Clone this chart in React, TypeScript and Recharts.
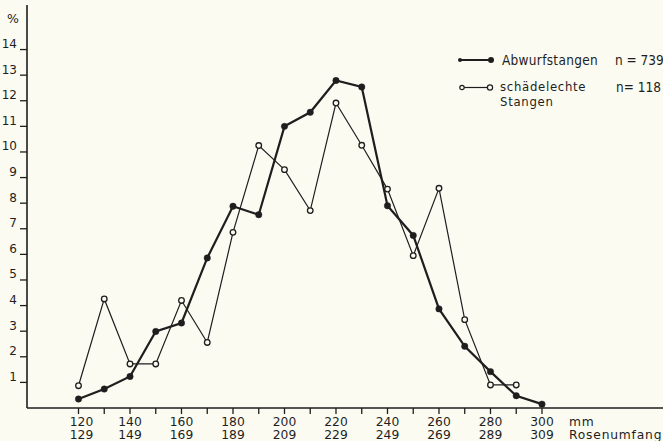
import React from "react";
import { LineChart, Line, XAxis, YAxis } from "recharts";

// Rosenumfang classes (mm), lower and upper bound
const classStarts = [120, 130, 140, 150, 160, 170, 180, 190, 200, 210, 220, 230, 240, 250, 260, 270, 280, 290, 300];
const classEnds = [129, 139, 149, 159, 169, 179, 189, 199, 209, 219, 229, 239, 249, 259, 269, 279, 289, 299, 309];

// percent per class
const abwurfstangen = [0.35, 0.74, 1.23, 2.99, 3.32, 5.86, 7.88, 7.55, 11.0, 11.55, 12.79, 12.54, 7.9, 6.74, 3.87, 2.41, 1.42, 0.48, 0.15];
const schaedelechte = [0.87, 4.26, 1.72, 1.72, 4.2, 2.56, 6.86, 10.25, 9.31, 7.71, 11.91, 10.26, 8.55, 5.95, 8.58, 3.45, 0.9, 0.9, null];

const yTicks = [1, 2, 3, 4, 5, 6, 7, 8, 9, 10, 11, 12, 13, 14];
const labelledClasses = [120, 140, 160, 180, 200, 220, 240, 260, 280, 300];

const data = classStarts.map((c, i) => ({
  klasse: c,
  abwurf: abwurfstangen[i],
  schaedel: schaedelechte[i],
}));

const INK = "#1e1e1e";
const PAPER = "#fbfbf2";
const TICK_FONT = '"DejaVu Sans", sans-serif';
const LEGEND_FONT = '"DejaVu Sans Condensed", "DejaVu Sans", sans-serif';

function XTick(props: any) {
  const { x, y, payload } = props;
  const v = payload.value as number;
  const tick = <line x1={x} x2={x} y1={y} y2={y + 6} stroke={INK} strokeWidth={1.3} />;
  if (!labelledClasses.includes(v)) return tick;
  const i = classStarts.indexOf(v);
  const lx = v === 120 ? x + 3 : x;
  return (
    <g fontFamily={TICK_FONT} fontSize={12.3} fill={INK}>
      {tick}
      <text x={lx} y={y + 18} textAnchor="middle">
        <tspan x={lx}>{v}</tspan>
        <tspan x={lx} dy={12.6}>{classEnds[i]}</tspan>
      </text>
      {v === 300 && (
        <text x={x + 27} y={y + 18} letterSpacing={0.8}>
          <tspan x={x + 27}>mm</tspan>
          <tspan x={x + 27} dy={12.6}>Rosenumfang</tspan>
        </text>
      )}
    </g>
  );
}

function YTick(props: any) {
  const { x, y, payload } = props;
  return (
    <g>
      <line x1={x - 7} x2={x} y1={y} y2={y} stroke={INK} strokeWidth={1.3} />
      <text x={x - 10} y={y - 1.5} textAnchor="end" fontFamily={TICK_FONT} fontSize={12} fill={INK}>
        {payload.value}
      </text>
    </g>
  );
}

export default function App() {
  return (
    <div style={{ position: "absolute", left: 0, top: 0, width: 663, height: 441, background: PAPER }}>
      <LineChart width={663} height={441} data={data} margin={{ top: 5, right: 0, bottom: 0, left: 0 }}>
        <XAxis
          dataKey="klasse"
          type="number"
          domain={[100, 347]}
          allowDataOverflow
          ticks={classStarts}
          interval={0}
          height={33}
          tickSize={0}
          tickMargin={0}
          tick={<XTick />}
          axisLine={{ stroke: INK, strokeWidth: 1.6 }}
        />
        <YAxis
          type="number"
          domain={[0, 15.74]}
          allowDataOverflow
          ticks={yTicks}
          interval={0}
          width={27}
          tickSize={0}
          tickMargin={0}
          tick={<YTick />}
          axisLine={{ stroke: INK, strokeWidth: 1.6 }}
        />
        <Line
          type="linear"
          dataKey="abwurf"
          stroke={INK}
          strokeWidth={2.2}
          dot={{ r: 3.2, fill: INK, stroke: INK, strokeWidth: 0.5 }}
          isAnimationActive={false}
        />
        <Line
          type="linear"
          dataKey="schaedel"
          stroke={INK}
          strokeWidth={1.2}
          dot={{ r: 2.8, fill: PAPER, stroke: INK, strokeWidth: 1.3 }}
          isAnimationActive={false}
        />
      </LineChart>
      <svg
        width={663}
        height={441}
        style={{ position: "absolute", left: 0, top: 0, pointerEvents: "none" }}
        fontFamily={LEGEND_FONT}
        fill={INK}
      >
        <text x={7} y={23} fontSize={12.5} fontFamily={TICK_FONT}>%</text>
        <line x1={460} x2={491} y1={60} y2={60} stroke={INK} strokeWidth={2} />
        <circle cx={460} cy={60} r={2} fill={INK} />
        <circle cx={491} cy={60} r={3} fill={INK} />
        <text x={502} y={64.5} fontSize={13.5} letterSpacing={0.3}>Abwurfstangen</text>
        <text x={615} y={64.5} fontSize={13.5}>n = 739</text>
        <line x1={462} x2={490} y1={87.5} y2={87.5} stroke={INK} strokeWidth={1.2} />
        <circle cx={462} cy={87.5} r={2.2} fill={PAPER} stroke={INK} strokeWidth={1.2} />
        <circle cx={490} cy={87.5} r={2.6} fill={PAPER} stroke={INK} strokeWidth={1.2} />
        <text x={500} y={90.8} fontSize={13} letterSpacing={0.7}>
          <tspan x={500}>schädelechte</tspan>
          <tspan x={500} dy={15}>Stangen</tspan>
        </text>
        <text x={616} y={91.5} fontSize={13.5}>n= 118</text>
      </svg>
    </div>
  );
}
